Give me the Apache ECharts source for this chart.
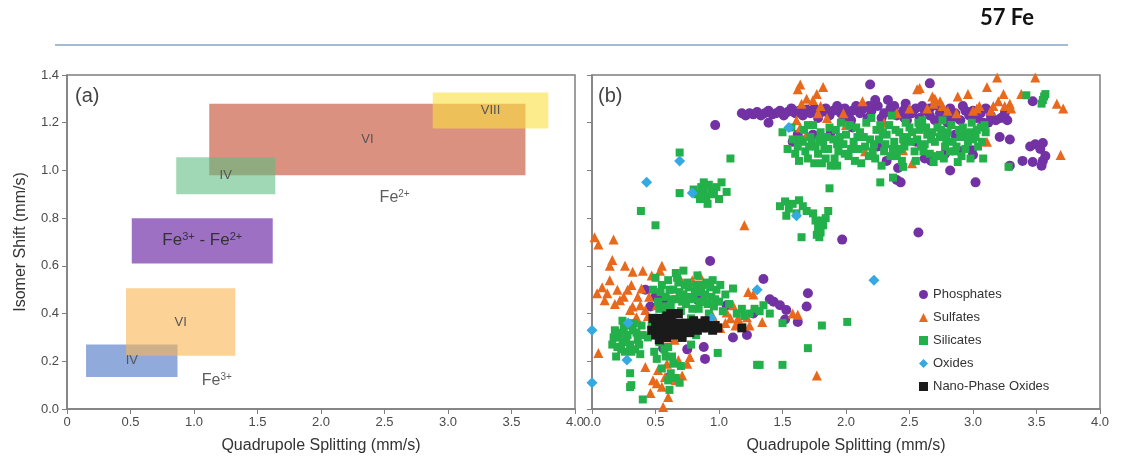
<!DOCTYPE html>
<html><head><meta charset="utf-8">
<script src="https://cdn.jsdelivr.net/npm/echarts@6/dist/echarts.min.js"></script>
<style>html,body{margin:0;padding:0;background:#fff}#c{width:1121px;height:466px}</style>
</head><body><div id="c"></div>
<script>
// ---------- DATA ----------
const xTicks = [0, 0.5, 1.0, 1.5, 2.0, 2.5, 3.0, 3.5, 4.0];
const yTicks = [0, 0.2, 0.4, 0.6, 0.8, 1.0, 1.2, 1.4];

// panel (a): site ranges
const rectLabels = ['IV', 'VI', 'Fe3+ - Fe2+', 'VI', 'IV', 'VIII'];
const rectX0 = [0.15, 0.465, 0.51, 1.12, 0.86, 2.88];
const rectX1 = [0.87, 1.325, 1.62, 3.61, 1.64, 3.79];
const rectY0 = [0.134, 0.223, 0.61, 0.98, 0.90, 1.176];
const rectY1 = [0.27, 0.506, 0.80, 1.28, 1.055, 1.327];
const ionLabels = ['Fe2+', 'Fe3+'];
const ionPos = [[2.58, 0.885], [1.18, 0.12]];

// panel (b): measured parameters [QS, IS]
const phosphates = [
[1.18,1.24],[1.21,1.23],[1.24,1.24],[1.27,1.235],[1.30,1.245],[1.33,1.23],[1.36,1.24],[1.39,1.25],[1.42,1.235],[1.45,1.24],
[1.48,1.25],[1.51,1.23],[1.54,1.245],[1.57,1.26],[1.60,1.24],[1.63,1.25],[1.66,1.23],[1.69,1.255],[1.72,1.24],[1.75,1.26],
[1.78,1.22],[1.81,1.245],[1.84,1.26],[1.87,1.23],[1.90,1.25],[1.93,1.27],[1.96,1.24],[1.99,1.26],[2.02,1.23],[2.05,1.25],
[2.08,1.27],[2.11,1.24],[2.14,1.26],[2.17,1.22],[2.20,1.25],[2.25,1.27],[2.30,1.24],[2.35,1.26],[2.40,1.23],[2.45,1.25],
[2.48,1.21],[2.52,1.24],[2.55,1.26],[2.58,1.22],[2.62,1.25],[2.66,1.23],[2.70,1.21],[2.74,1.24],[2.78,1.22],[2.82,1.26],
[2.86,1.24],[2.90,1.21],[2.94,1.25],[2.97,1.23],[3.0,1.25],[3.03,1.22],[3.14,1.23],[3.18,1.21],[3.22,1.22],[3.27,1.21],
[2.04,1.21],[2.18,1.27],[2.28,1.22],[2.38,1.27],[2.47,1.28],[2.60,1.27],[2.72,1.27],[2.84,1.22],[2.92,1.27],[3.06,1.24],
[3.10,1.26],[1.98,1.22],[2.46,1.22],[2.66,1.26],[2.80,1.20],[3.12,1.20],[3.25,1.24],
[0.97,1.19],[1.39,1.20],[1.58,1.12],[1.74,1.15],[2.19,1.36],[2.23,1.295],[2.33,1.295],[2.32,1.04],[2.40,0.96],[2.66,1.365],
[3.47,1.29],[3.21,1.14],[3.29,1.13],[3.45,1.10],[3.49,1.11],[3.53,1.09],[3.55,1.115],[3.39,1.04],[3.47,1.035],[3.55,1.04],
[3.57,1.06],[3.54,1.02],[3.29,1.02],[2.82,1.0],[3.02,0.95],[2.41,1.01],[2.43,0.95],[2.67,1.04],[2.90,1.08],[2.99,1.085],
[3.0,1.065],[2.57,0.74],[1.97,0.71],[1.62,1.15],[1.88,1.16],[2.05,1.18],[2.25,1.10],[2.55,1.12],[2.62,1.05],[2.78,1.07],
[2.86,1.15],[3.08,1.20],
[0.93,0.62],[1.35,0.545],[1.43,0.45],[1.48,0.435],[1.53,0.415],[1.70,0.485],[1.69,0.43],[1.52,0.375],[1.62,0.365],[1.11,0.30],
[0.89,0.21],[1.22,0.31],[1.06,0.435],[0.50,0.47],[0.56,0.456],[0.835,0.456],[0.75,0.25],[0.56,0.255],[0.61,0.134],[0.46,0.43],
[1.27,0.40],[1.40,0.46],[0.42,0.50],[0.65,0.36],[0.88,0.26]
];
const sulfates = [
[1.64,1.36],[1.62,1.34],[1.82,1.35],[1.77,1.32],[1.74,1.295],[1.69,1.30],[1.65,1.28],[1.80,1.27],[1.78,1.24],[1.61,1.21],
[1.64,1.18],[1.69,1.15],[2.13,1.29],[1.98,1.24],[2.15,1.08],[3.19,1.39],[3.49,1.39],[3.11,1.35],[2.56,1.34],[2.58,1.345],
[2.68,1.31],[2.69,1.28],[2.74,1.29],[2.88,1.31],[2.96,1.32],[3.24,1.32],[3.38,1.32],[3.29,1.28],[3.25,1.27],[3.16,1.27],
[3.03,1.26],[2.50,1.26],[2.87,1.24],[3.66,1.28],[3.71,1.26],[3.11,1.12],[3.69,1.065],[2.52,1.03],[2.45,1.085],[2.70,1.30],
[2.76,1.27],[2.80,1.25],[2.64,1.26],[3.0,1.25],[3.05,1.27],[3.20,1.29],[3.30,1.26],[3.14,1.25],[2.40,1.24],[2.30,1.20],
[1.85,1.22],[2.0,1.19],
[1.20,0.77],[0.02,0.72],[0.05,0.69],[0.17,0.71],[0.16,0.625],[0.14,0.60],[0.26,0.60],[0.32,0.575],[0.40,0.58],[0.47,0.56],
[0.535,0.58],[0.55,0.60],[0.14,0.54],[0.08,0.51],[0.04,0.485],[0.12,0.485],[0.20,0.50],[0.10,0.456],[0.22,0.456],[0.31,0.52],
[0.39,0.505],[0.32,0.43],[0.38,0.435],[0.42,0.415],[0.44,0.39],[0.35,0.385],[0.30,0.415],[0.51,0.435],[0.05,0.235],[0.42,0.176],
[0.52,0.163],[0.575,0.134],[0.51,0.108],[0.46,0.067],[0.55,0.093],[0.59,0.19],[0.71,0.14],[0.68,0.205],[0.75,0.19],[0.77,0.218],
[0.65,0.29],[0.59,0.30],[0.79,0.54],[0.85,0.56],[0.56,0.008],[1.01,0.34],[1.05,0.36],[1.09,0.38],[1.13,0.35],[1.06,0.405],
[1.11,0.435],[1.15,0.38],[1.22,0.385],[1.24,0.35],[1.34,0.365],[1.23,0.49],[1.27,0.48],[1.58,0.40],[1.62,0.395],[1.77,0.14],
[0.25,0.47],[0.28,0.50],[0.45,0.47],[0.36,0.47],[0.18,0.44],[0.62,0.33],[0.66,0.12],[0.60,0.05],[0.48,0.12],[0.95,0.39],
[0.70,0.54]
];
const silicates = [
[1.50,1.16],[1.54,1.09],[1.58,1.13],[1.62,1.10],[1.60,1.07],[1.66,1.12],[1.68,1.08],[1.72,1.14],[1.70,1.05],[1.76,1.10],
[1.78,1.07],[1.82,1.12],[1.80,1.16],[1.86,1.09],[1.84,1.05],[1.90,1.13],[1.92,1.17],[1.94,1.08],[1.98,1.11],[2.0,1.15],
[2.02,1.06],[2.06,1.12],[2.08,1.18],[2.10,1.09],[2.14,1.14],[2.16,1.20],[2.18,1.06],[2.22,1.11],[2.24,1.17],[2.26,1.13],
[2.30,1.08],[2.32,1.15],[2.34,1.19],[2.38,1.12],[2.40,1.06],[2.42,1.16],[2.46,1.10],[2.48,1.14],[2.50,1.18],[2.54,1.08],
[2.56,1.13],[2.58,1.17],[2.62,1.11],[2.64,1.15],[2.66,1.07],[2.70,1.12],[2.72,1.18],[2.74,1.14],[2.78,1.10],[2.80,1.16],
[2.84,1.12],[2.86,1.08],[2.90,1.14],[2.92,1.18],[2.96,1.12],[2.98,1.16],[3.02,1.14],[3.06,1.18],[3.10,1.16],[3.04,1.10],
[1.96,1.20],[2.12,1.03],[2.28,1.02],[2.44,1.04],[2.60,1.21],[2.76,1.21],[1.74,1.19],[1.88,1.02],[2.20,1.22],[2.36,1.23],
[1.63,1.04],[1.67,1.17],[1.71,1.10],[1.75,1.03],[1.79,1.13],[1.83,1.09],[1.87,1.18],[1.91,1.05],[1.95,1.14],[1.99,1.07],
[2.03,1.19],[2.07,1.04],[2.11,1.16],[2.15,1.10],[2.19,1.13],[2.23,1.05],[2.27,1.19],[2.31,1.11],[2.35,1.06],[2.39,1.17],
[2.43,1.09],[2.47,1.20],[2.51,1.12],[2.55,1.04],[2.59,1.10],[2.63,1.18],[2.67,1.13],[2.71,1.06],[2.75,1.17],[2.79,1.13],
[2.83,1.19],[2.87,1.10],[2.91,1.06],[2.95,1.15],[2.99,1.20],[3.03,1.17],[3.07,1.12],[3.09,1.19],[1.57,1.18],[1.64,1.13],
[1.70,1.19],[1.85,1.14],[2.04,1.09],[2.21,1.08],[2.37,1.09],[2.52,1.16],[2.68,1.16],[2.82,1.08],[2.94,1.09],[3.0,1.13],
[1.93,1.11],[2.09,1.14],[2.29,1.16],[2.45,1.13],[2.61,1.08],[2.77,1.05],[1.73,1.12],[1.81,1.03],[2.57,1.20],[2.89,1.17],
[3.55,1.295],[3.56,1.31],[3.54,1.28],[3.57,1.32],[3.42,1.315],[3.28,1.015],[3.08,1.05],[2.98,1.05],[2.88,1.035],[2.74,1.065],
[2.69,1.035],[2.45,1.015],[2.37,0.97],[2.27,0.95],[1.87,0.925],[1.93,1.02],
[1.48,0.85],[1.52,0.87],[1.55,0.84],[1.58,0.86],[1.61,0.82],[1.63,0.875],[1.66,0.85],[1.69,0.83],[1.53,0.81],[1.74,0.82],
[1.76,0.79],[1.78,0.76],[1.80,0.74],[1.82,0.77],[1.84,0.80],[1.77,0.73],[1.79,0.72],[1.86,0.83],[1.81,0.79],[1.65,0.72],
[0.69,1.075],[1.09,1.05],[0.385,0.83],[0.50,0.77],[0.69,0.905],[0.80,0.92],[0.83,0.90],[0.86,0.93],[0.88,0.91],[0.90,0.89],
[0.92,0.94],[0.94,0.92],[0.96,0.90],[0.98,0.93],[0.85,0.88],[0.91,0.86],[1.00,0.88],[1.06,0.91],[1.02,0.95],[0.88,0.95],
[0.48,0.50],[0.52,0.45],[0.55,0.52],[0.58,0.47],[0.60,0.54],[0.62,0.43],[0.64,0.50],[0.66,0.46],[0.68,0.53],[0.70,0.41],
[0.72,0.48],[0.74,0.44],[0.76,0.51],[0.78,0.38],[0.80,0.46],[0.82,0.52],[0.84,0.42],[0.86,0.49],[0.88,0.45],[0.90,0.53],
[0.92,0.40],[0.94,0.47],[0.96,0.43],[0.98,0.50],[1.00,0.45],[1.03,0.41],[0.75,0.53],[0.95,0.54],[1.11,0.505],[1.24,0.40],
[0.50,0.55],[0.54,0.49],[0.57,0.43],[0.61,0.50],[0.63,0.46],[0.67,0.55],[0.69,0.49],[0.71,0.45],[0.73,0.52],[0.77,0.47],
[0.79,0.42],[0.81,0.49],[0.83,0.56],[0.85,0.45],[0.87,0.52],[0.89,0.48],[0.91,0.44],[0.93,0.51],[0.97,0.46],[1.01,0.52],
[1.05,0.48],[1.08,0.44],[0.66,0.57],[0.72,0.58],[0.58,0.40],[0.53,0.42],
[1.35,0.435],[1.40,0.40],[1.50,0.36],[1.81,0.35],[2.01,0.365],[1.70,0.255],[1.50,0.185],[1.30,0.185],[1.32,0.185],[0.99,0.235],
[1.18,0.42],[1.20,0.39],[1.28,0.42],[1.14,0.40],[1.32,0.41],
[0.17,0.30],[0.20,0.26],[0.22,0.32],[0.24,0.28],[0.26,0.24],[0.28,0.31],[0.30,0.27],[0.32,0.33],[0.34,0.25],[0.36,0.29],
[0.38,0.23],[0.40,0.31],[0.25,0.34],[0.19,0.22],[0.33,0.36],[0.16,0.27],[0.30,0.15],[0.31,0.10],[0.40,0.04],[0.61,0.08],
[0.21,0.30],[0.23,0.25],[0.27,0.29],[0.29,0.35],[0.31,0.24],[0.35,0.32],[0.37,0.27],[0.18,0.33],[0.24,0.37],[0.39,0.35],
[0.69,0.11],[0.30,0.092],[0.51,0.21],[0.55,0.17],[0.58,0.22],[0.62,0.15],[0.64,0.19],[0.66,0.13],[0.70,0.18],[0.53,0.28],
[0.57,0.32],[0.47,0.35],[0.44,0.30],[0.60,0.26],[0.82,0.31],[0.78,0.27],[0.60,0.12],[0.57,0.25],[0.63,0.22],[0.49,0.24]
];
const oxides = [
[0.0,0.33],[0.0,0.11],[0.275,0.205],[0.285,0.36],[0.94,0.38],[1.30,0.50],[2.22,0.54],[0.43,0.95],[0.69,1.04],[0.79,0.905],
[1.61,0.81],[1.55,1.18]
];
const nanoOxides = [
[0.47,0.33],[0.50,0.36],[0.50,0.31],[0.53,0.38],[0.53,0.34],[0.53,0.29],[0.56,0.36],[0.56,0.32],[0.59,0.39],[0.59,0.34],
[0.59,0.30],[0.62,0.37],[0.62,0.33],[0.65,0.35],[0.65,0.31],[0.68,0.40],[0.68,0.36],[0.68,0.33],[0.71,0.34],[0.71,0.30],
[0.74,0.36],[0.74,0.33],[0.77,0.35],[0.77,0.32],[0.80,0.34],[0.80,0.37],[0.83,0.33],[0.85,0.36],[0.87,0.34],[0.89,0.37],
[0.91,0.34],[0.93,0.35],[0.95,0.33],[0.97,0.35],[0.99,0.34],[1.18,0.34],[0.48,0.38],[0.62,0.40]
];

// ---------- STYLE ----------
const rectColors = ['rgba(72,113,197,0.6)','rgba(250,180,80,0.6)','rgba(93,17,155,0.6)',
                    'rgba(193,72,43,0.6)','rgba(97,188,130,0.6)','rgba(252,223,63,0.6)'];
const FONT = 'Liberation Sans, Arial, sans-serif';
const axisGray = '#7f7f7f';
const labelGray = '#4a4a4a';

function supRich(txt) {
  return txt.replace(/Fe(\d\+)/g, '{b|Fe}{s|$1}').replace(/ - /g, '{b| - }');
}
const richFe = (sz) => ({
  b: {fontSize: sz, color: '#333', fontFamily: FONT},
  s: {fontSize: Math.round(sz*0.62), color: '#333', fontFamily: FONT, verticalAlign: 'bottom', padding: [0,0,Math.round(sz*0.45),0]}
});

const markAreaData = rectLabels.map((lab, i) => {
  const isFe = lab.indexOf('Fe') >= 0;
  return [
    {name: lab, xAxis: rectX0[i], yAxis: rectY0[i], itemStyle: {color: rectColors[i]},
     label: isFe ? {formatter: supRich(lab), rich: richFe(17)} :
                   {formatter: lab, fontSize: 13, color: '#555', fontFamily: FONT}},
    {xAxis: rectX1[i], yAxis: rectY1[i]}
  ];
});

function xAxisCfg(idx, zeroLabel) {
  return {
    gridIndex: idx, type: 'value', min: 0, max: 4, interval: 0.5,
    name: 'Quadrupole Splitting (mm/s)', nameLocation: 'middle', nameGap: 29,
    nameTextStyle: {fontSize: 16, color: '#333', fontFamily: FONT},
    axisLine: {show: true, lineStyle: {color: axisGray, width: 1.5}},
    axisTick: {show: true, inside: false, length: 5, lineStyle: {color: axisGray}},
    axisLabel: {fontSize: 13, color: labelGray, fontFamily: FONT, margin: 7,
      formatter: v => (v === 0 ? zeroLabel : v.toFixed(1))},
    splitLine: {show: false}
  };
}
function yAxisCfg(idx, showLabels) {
  return {
    gridIndex: idx, type: 'value', min: 0, max: 1.4, interval: 0.2,
    name: showLabels ? 'Isomer Shift (mm/s)' : '', nameLocation: 'middle', nameGap: 38,
    nameTextStyle: {fontSize: 16, color: '#333', fontFamily: FONT},
    axisLine: {show: true, lineStyle: {color: axisGray, width: 1.5}},
    axisTick: {show: true, inside: false, length: 5, lineStyle: {color: axisGray}},
    axisLabel: {show: showLabels, fontSize: 13, color: labelGray, fontFamily: FONT, margin: 8,
      formatter: v => v.toFixed(1)},
    splitLine: {show: false}
  };
}

const chart = echarts.init(document.getElementById('c'), null, {renderer: 'canvas'});
const option = {
  backgroundColor: '#fff',
  animation: false,
  grid: [
    {left: 67, top: 75, width: 508, height: 334, show: true, borderColor: axisGray, borderWidth: 1.5, backgroundColor: 'transparent'},
    {left: 592, top: 75, width: 508, height: 334, show: true, borderColor: axisGray, borderWidth: 1.5, backgroundColor: 'transparent'}
  ],
  xAxis: [xAxisCfg(0, '0'), xAxisCfg(1, '0.0')],
  yAxis: [yAxisCfg(0, true), yAxisCfg(1, false)],
  legend: {
    orient: 'vertical', left: 914, top: 283, itemWidth: 9, itemHeight: 9, itemGap: 10,
    textStyle: {fontSize: 13, color: '#333', fontFamily: FONT},
    data: ['Phosphates', 'Sulfates', 'Silicates', 'Oxides', 'Nano-Phase Oxides']
  },
  graphic: [
    {type: 'text', left: 980, top: 7, style: {text: '57 Fe', fontSize: 22, fontWeight: 'bold', fontFamily: 'Lato', fill: '#111'}},
    {type: 'line', shape: {x1: 55, y1: 45, x2: 1068, y2: 45}, style: {stroke: '#a3bbd4', lineWidth: 2}},
    {type: 'text', left: 75, top: 86, style: {text: '(a)', fontSize: 20, fontFamily: FONT, fill: '#444'}},
    {type: 'text', left: 598, top: 86, style: {text: '(b)', fontSize: 20, fontFamily: FONT, fill: '#444'}}
  ],
  series: [
    {
      type: 'scatter', xAxisIndex: 0, yAxisIndex: 0, symbolSize: 0, silent: true,
      data: ionPos.map((p, i) => ({value: p, name: ionLabels[i]})),
      label: {show: true, position: 'inside', formatter: p => supRich(p.name), rich: richFe(16)},
      markArea: {silent: true, data: markAreaData, label: {show: true, position: 'inside'}}
    },
    {name: 'Phosphates', type: 'scatter', xAxisIndex: 1, yAxisIndex: 1, symbol: 'circle', symbolSize: 10,
     itemStyle: {color: '#7232a4', opacity: 1}, data: phosphates},
    {name: 'Sulfates', type: 'scatter', xAxisIndex: 1, yAxisIndex: 1, symbol: 'triangle', symbolSize: 10,
     itemStyle: {color: '#e8691c', opacity: 1}, data: sulfates},
    {name: 'Silicates', type: 'scatter', xAxisIndex: 1, yAxisIndex: 1, symbol: 'rect', symbolSize: 8,
     itemStyle: {color: '#23b04a', opacity: 1}, data: silicates},
    {name: 'Oxides', type: 'scatter', xAxisIndex: 1, yAxisIndex: 1, symbol: 'diamond', symbolSize: 11,
     itemStyle: {color: '#35a9e1', opacity: 1}, data: oxides},
    {name: 'Nano-Phase Oxides', type: 'scatter', xAxisIndex: 1, yAxisIndex: 1, symbol: 'rect', symbolSize: 9,
     itemStyle: {color: '#1a1a1a', opacity: 1}, data: nanoOxides}
  ]
};
chart.setOption(option);
</script>
</body></html>
